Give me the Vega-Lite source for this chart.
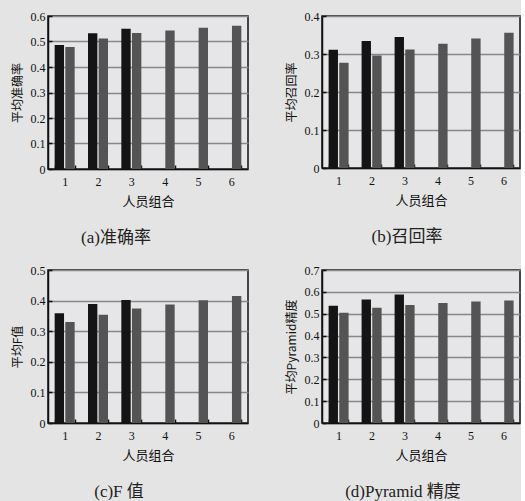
{
  "$schema": "https://vega.github.io/schema/vega-lite/v6.json",
  "background": "#e4e4e4",
  "padding": {"left": 10, "top": 9, "right": 0, "bottom": 0},
  "spacing": 254,
  "bounds": "flush",
  "config": {
    "font": "Liberation Serif, Noto Sans CJK SC",
    "view": {"stroke": "#111", "strokeWidth": 1.5, "fill": "#e6e6e8"},
    "bar": {"stroke": null},
    "axis": {
      "domainColor": "#111", "domainWidth": 1.5,
      "tickColor": "#111", "tickWidth": 1.5, "tickSize": -4,
      "gridColor": "#888", "gridWidth": 1.5, "gridOpacity": 1,
      "labelColor": "#111", "labelFont": "Liberation Serif", "labelFontSize": 12,
      "titleColor": "#111", "titleFont": "Noto Sans CJK SC", "titleFontWeight": "normal", "titleFontSize": 12
    },
    "axisX": {"grid": false, "labelAngle": 0, "labelPadding": 11, "titlePadding": 8, "titleFontSize": 13, "tickBand": "extent"},
    "axisY": {"labelPadding": 7, "titlePadding": 6, "labelExpr": "datum.value == 0 ? '0' : format(datum.value, '.1f')"},
    "title": {"orient": "bottom", "fontSize": 17, "fontWeight": "normal", "color": "#222", "offset": 22, "font": "Liberation Serif, Noto Sans CJK SC"}
  },
  "datasets": {
    "d": [
      {"p": "a", "cat": "1", "s": "A", "v": 0.486},
      {"p": "a", "cat": "1", "s": "B", "v": 0.478},
      {"p": "a", "cat": "2", "s": "A", "v": 0.532},
      {"p": "a", "cat": "2", "s": "B", "v": 0.512},
      {"p": "a", "cat": "3", "s": "A", "v": 0.550},
      {"p": "a", "cat": "3", "s": "B", "v": 0.533},
      {"p": "a", "cat": "4", "s": "B", "v": 0.543},
      {"p": "a", "cat": "5", "s": "B", "v": 0.554},
      {"p": "a", "cat": "6", "s": "B", "v": 0.562},
      {"p": "b", "cat": "1", "s": "A", "v": 0.311},
      {"p": "b", "cat": "1", "s": "B", "v": 0.277},
      {"p": "b", "cat": "2", "s": "A", "v": 0.334},
      {"p": "b", "cat": "2", "s": "B", "v": 0.296},
      {"p": "b", "cat": "3", "s": "A", "v": 0.345},
      {"p": "b", "cat": "3", "s": "B", "v": 0.312},
      {"p": "b", "cat": "4", "s": "B", "v": 0.327},
      {"p": "b", "cat": "5", "s": "B", "v": 0.341},
      {"p": "b", "cat": "6", "s": "B", "v": 0.356},
      {"p": "c", "cat": "1", "s": "A", "v": 0.359},
      {"p": "c", "cat": "1", "s": "B", "v": 0.330},
      {"p": "c", "cat": "2", "s": "A", "v": 0.389},
      {"p": "c", "cat": "2", "s": "B", "v": 0.354},
      {"p": "c", "cat": "3", "s": "A", "v": 0.402},
      {"p": "c", "cat": "3", "s": "B", "v": 0.374},
      {"p": "c", "cat": "4", "s": "B", "v": 0.387},
      {"p": "c", "cat": "5", "s": "B", "v": 0.401},
      {"p": "c", "cat": "6", "s": "B", "v": 0.415},
      {"p": "d", "cat": "1", "s": "A", "v": 0.536},
      {"p": "d", "cat": "1", "s": "B", "v": 0.504},
      {"p": "d", "cat": "2", "s": "A", "v": 0.565},
      {"p": "d", "cat": "2", "s": "B", "v": 0.527},
      {"p": "d", "cat": "3", "s": "A", "v": 0.588},
      {"p": "d", "cat": "3", "s": "B", "v": 0.540},
      {"p": "d", "cat": "4", "s": "B", "v": 0.549},
      {"p": "d", "cat": "5", "s": "B", "v": 0.556},
      {"p": "d", "cat": "6", "s": "B", "v": 0.560}
    ]
  },
  "vconcat": [
    {
      "spacing": 74,
      "bounds": "flush",
      "hconcat": [
        {
          "width": 200, "height": 153,
          "title": {"text": "(a)准确率", "dx": -32},
          "data": {"name": "d"},
          "transform": [{"filter": "datum.p == 'a'"}],
          "mark": "bar",
          "encoding": {
            "x": {"field": "cat", "type": "ordinal", "title": "人员组合", "scale": {"paddingInner": 0.4, "paddingOuter": 0.2}},
            "xOffset": {"field": "s", "type": "nominal", "scale": {"domain": ["A", "B"], "paddingInner": 0.12}},
            "y": {"field": "v", "type": "quantitative", "title": "平均准确率", "scale": {"domain": [0, 0.6]}, "axis": {"values": [0, 0.1, 0.2, 0.3, 0.4, 0.5, 0.6]}},
            "color": {"field": "s", "type": "nominal", "scale": {"domain": ["A", "B"], "range": ["#141414", "#545454"]}, "legend": null}
          }
        },
        {
          "width": 198, "height": 152,
          "title": {"text": "(b)召回率", "dx": -14},
          "data": {"name": "d"},
          "transform": [{"filter": "datum.p == 'b'"}],
          "mark": "bar",
          "encoding": {
            "x": {"field": "cat", "type": "ordinal", "title": "人员组合", "scale": {"paddingInner": 0.4, "paddingOuter": 0.2}},
            "xOffset": {"field": "s", "type": "nominal", "scale": {"domain": ["A", "B"], "paddingInner": 0.12}},
            "y": {"field": "v", "type": "quantitative", "title": "平均召回率", "scale": {"domain": [0, 0.4]}, "axis": {"values": [0, 0.1, 0.2, 0.3, 0.4]}},
            "color": {"field": "s", "type": "nominal", "scale": {"domain": ["A", "B"], "range": ["#141414", "#545454"]}, "legend": null}
          }
        }
      ]
    },
    {
      "spacing": 74,
      "bounds": "flush",
      "hconcat": [
        {
          "width": 200, "height": 153,
          "title": {"text": "(c)F 值", "dx": -29},
          "data": {"name": "d"},
          "transform": [{"filter": "datum.p == 'c'"}],
          "mark": "bar",
          "encoding": {
            "x": {"field": "cat", "type": "ordinal", "title": "人员组合", "scale": {"paddingInner": 0.4, "paddingOuter": 0.2}},
            "xOffset": {"field": "s", "type": "nominal", "scale": {"domain": ["A", "B"], "paddingInner": 0.12}},
            "y": {"field": "v", "type": "quantitative", "title": "平均F值", "scale": {"domain": [0, 0.5]}, "axis": {"values": [0, 0.1, 0.2, 0.3, 0.4, 0.5]}},
            "color": {"field": "s", "type": "nominal", "scale": {"domain": ["A", "B"], "range": ["#141414", "#545454"]}, "legend": null}
          }
        },
        {
          "width": 198, "height": 153,
          "title": {"text": "(d)Pyramid 精度", "dx": -18},
          "data": {"name": "d"},
          "transform": [{"filter": "datum.p == 'd'"}],
          "mark": "bar",
          "encoding": {
            "x": {"field": "cat", "type": "ordinal", "title": "人员组合", "scale": {"paddingInner": 0.4, "paddingOuter": 0.2}},
            "xOffset": {"field": "s", "type": "nominal", "scale": {"domain": ["A", "B"], "paddingInner": 0.12}},
            "y": {"field": "v", "type": "quantitative", "title": "平均Pyramid精度", "scale": {"domain": [0, 0.7]}, "axis": {"values": [0, 0.1, 0.2, 0.3, 0.4, 0.5, 0.6, 0.7]}},
            "color": {"field": "s", "type": "nominal", "scale": {"domain": ["A", "B"], "range": ["#141414", "#545454"]}, "legend": null}
          }
        }
      ]
    }
  ]
}
